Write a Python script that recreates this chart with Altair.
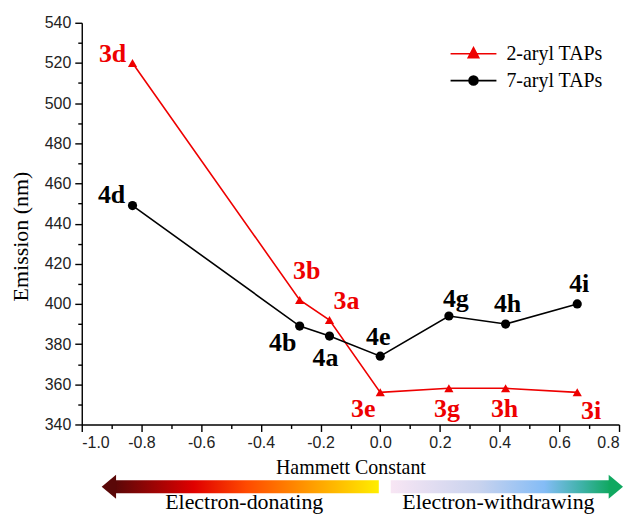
import altair as alt
import pandas as pd

# ---------------- data ----------------
series_names = ["2-aryl TAPs", "7-aryl TAPs"]
hammett_2 = [-0.83, -0.27, -0.17, 0.0, 0.23, 0.42, 0.66]
emission_2 = [520, 402, 392, 356, 358, 358, 356]
labels_2 = ["3d", "3b", "3a", "3e", "3g", "3h", "3i"]
hammett_7 = [-0.83, -0.27, -0.17, 0.0, 0.23, 0.42, 0.66]
emission_7 = [449, 389, 384, 374, 394, 390, 400]
labels_7 = ["4d", "4b", "4a", "4e", "4g", "4h", "4i"]

x_major = [-1.0, -0.8, -0.6, -0.4, -0.2, 0.0, 0.2, 0.4, 0.6, 0.8]
x_minor = [-0.9, -0.7, -0.5, -0.3, -0.1, 0.1, 0.3, 0.5, 0.7]
y_major = [340, 360, 380, 400, 420, 440, 460, 480, 500, 520, 540]
y_minor = [350, 370, 390, 410, 430, 450, 470, 490, 510, 530]

x_title = "Hammett Constant"
y_title = "Emission (nm)"
left_text = "Electron-donating"
right_text = "Electron-withdrawing"

# ---------------- styles ----------------
RED = "#ee0000"
BLACK = "#000000"
W, H = 539, 403
SERIF = "Liberation Serif"
SANS = "Liberation Sans"

label_offsets = {
    "3d": (-20, -9), "3b": (7, -29), "3a": (17, -19), "3e": (-17, 17),
    "3g": (-2, 21), "3h": (-1, 21), "3i": (14, 19),
    "4d": (-21, -11), "4b": (-17, 17), "4a": (-4, 22), "4e": (-2, -19),
    "4g": (7, -17), "4h": (2, -20), "4i": (2, -20),
}

rows = []
for h, e, l in zip(hammett_2, emission_2, labels_2):
    rows.append({"h": h, "e": e, "label": l, "series": series_names[0]})
for h, e, l in zip(hammett_7, emission_7, labels_7):
    rows.append({"h": h, "e": e, "label": l, "series": series_names[1]})
df = pd.DataFrame(rows)

xscale = alt.Scale(domain=[-1.0, 0.8], nice=False, zero=False)
yscale = alt.Scale(domain=[340, 540], nice=False, zero=False)
cscale = alt.Scale(domain=series_names, range=[RED, BLACK])

# legend symbols: line segment + marker (units of 5px)
TRI = "M-4.6,0H4.6M0,-1.2L1.05,0.8L-1.05,0.8Z"
CIRC = "M-4.6,0H4.6M0.9,0A0.9,0.9 0 1,1 -0.9,0A0.9,0.9 0 1,1 0.9,0Z"
cond = "datum.value === '%s'" % series_names[0]


def make_legend():
    return alt.Legend(
        title=None, orient="none", legendX=383, legendY=21, padding=0,
        labelFont=SERIF, labelFontSize=20, labelColor="black", labelOffset=23,
        symbolSize=100, symbolStrokeWidth=1.6, rowPadding=7,
        symbolType=alt.ExprRef(expr="%s ? '%s' : '%s'" % (cond, TRI, CIRC)),
        symbolStrokeColor=alt.ExprRef(expr="%s ? '%s' : '%s'" % (cond, RED, BLACK)),
        symbolFillColor=alt.ExprRef(expr="%s ? '%s' : '%s'" % (cond, RED, BLACK)),
        symbolOpacity=1,
    )


minus_fix = "replace(format(datum.value, '.1f'), '\u2212', '-')"

axis_common = dict(
    labelFont=SANS, labelFontSize=16, labelColor="#222",
    domainColor="black", domainWidth=1.4, tickColor="black", tickWidth=1.4,
    grid=False, titleFont=SERIF, titleFontWeight="normal", titleColor="black",
)

x_axis = alt.Axis(values=x_major, labelExpr=minus_fix, tickSize=7, labelPadding=3,
                  title=x_title, titleFontSize=20, titleY=49,
                  titleBaseline="alphabetic", orient="bottom", **axis_common)
y_axis = alt.Axis(values=y_major, format="d", tickSize=7, labelPadding=4,
                  title=y_title, titleFontSize=22, titleAngle=-90,
                  titleX=-61, titleY=214, titleAlign="center",
                  titleBaseline="middle", orient="left", **axis_common)
x_axis_minor = alt.Axis(values=x_minor, tickSize=4, labels=False, domain=False,
                        title=None, grid=False, tickColor="black", tickWidth=1.4,
                        orient="bottom")
y_axis_minor = alt.Axis(values=y_minor, tickSize=4, labels=False, domain=False,
                        title=None, grid=False, tickColor="black", tickWidth=1.4,
                        orient="left")

base = alt.Chart(df)

lines = base.mark_line(strokeWidth=1.6).encode(
    x=alt.X("h:Q", scale=xscale, axis=x_axis),
    y=alt.Y("e:Q", scale=yscale, axis=y_axis),
    color=alt.Color("series:N", scale=cscale, legend=make_legend()),
)

pts_tri = base.transform_filter(alt.datum.series == series_names[0]).mark_point(
    filled=True, size=85, opacity=1, shape="triangle-up").encode(
    x=alt.X("h:Q", scale=xscale, axis=x_axis_minor),
    y=alt.Y("e:Q", scale=yscale, axis=y_axis_minor),
    color=alt.Color("series:N", scale=cscale, legend=make_legend()),
)
pts_circ = base.transform_filter(alt.datum.series == series_names[1]).mark_point(
    filled=True, size=85, opacity=1, shape="circle").encode(
    x=alt.X("h:Q", scale=xscale, axis=None),
    y=alt.Y("e:Q", scale=yscale, axis=None),
    color=alt.Color("series:N", scale=cscale, legend=make_legend()),
)

text_layers = []
for lab, (dx, dy) in label_offsets.items():
    col = RED if lab.startswith("3") else BLACK
    text_layers.append(
        base.transform_filter(alt.datum.label == lab).mark_text(
            font=SERIF, fontWeight="bold", fontSize=26, color=col,
            dx=dx, dy=dy, baseline="middle", align="center",
        ).encode(
            x=alt.X("h:Q", scale=xscale, axis=None),
            y=alt.Y("e:Q", scale=yscale, axis=None),
            text="label:N",
        )
    )

# gradient arrows below the axis
grad_left = alt.Gradient(
    gradient="linear", x1=0, x2=1, y1=0, y2=0,
    stops=[alt.GradientStop(offset=0, color="#5a0808"),
           alt.GradientStop(offset=0.3, color="#e00000"),
           alt.GradientStop(offset=0.5, color="#ff4a00"),
           alt.GradientStop(offset=0.75, color="#ff9e00"),
           alt.GradientStop(offset=1, color="#ffee00")])
grad_right = alt.Gradient(
    gradient="linear", x1=0, x2=1, y1=0, y2=0,
    stops=[alt.GradientStop(offset=0, color="#f8e6f4"),
           alt.GradientStop(offset=0.4, color="#c9d3ee"),
           alt.GradientStop(offset=0.7, color="#84bcf6"),
           alt.GradientStop(offset=0.87, color="#3fb2a8"),
           alt.GradientStop(offset=1, color="#10a860")])

deco = alt.Chart(pd.DataFrame({"d": [0]}))
bar_l = deco.mark_rect(fill=grad_left).encode(
    x=alt.value(33), x2=alt.value(298), y=alt.value(459), y2=alt.value(472))
head_l = deco.mark_point(shape="M-0.6,0L0.6,-1L0.6,1Z", size=576, filled=True,
                         fill="#5a0808", opacity=1, strokeWidth=0).encode(
    x=alt.value(27.2), y=alt.value(465.5))
bar_r = deco.mark_rect(fill=grad_right).encode(
    x=alt.value(310), x2=alt.value(530), y=alt.value(459), y2=alt.value(472))
head_r = deco.mark_point(shape="M0.6,0L-0.6,-1L-0.6,1Z", size=576, filled=True,
                         fill="#10a860", opacity=1, strokeWidth=0).encode(
    x=alt.value(535.8), y=alt.value(465.5))
txt_l = deco.mark_text(font=SERIF, fontSize=22, color="black", baseline="alphabetic",
                       align="center").encode(
    x=alt.value(163), y=alt.value(488), text=alt.value(left_text))
txt_r = deco.mark_text(font=SERIF, fontSize=22, color="black", baseline="alphabetic",
                       align="center").encode(
    x=alt.value(418), y=alt.value(488), text=alt.value(right_text))

chart = alt.layer(
    lines, pts_tri, pts_circ, *text_layers, bar_l, head_l, bar_r, head_r, txt_l, txt_r
).resolve_axis(x="independent", y="independent").properties(
    width=W, height=H,
    padding={"left": 74, "top": 14, "right": 8, "bottom": 91},
    autosize=alt.AutoSizeParams(type="none"),
).configure_view(stroke=None)

chart.save("out.html", embed_options={"renderer": "svg", "actions": False})
